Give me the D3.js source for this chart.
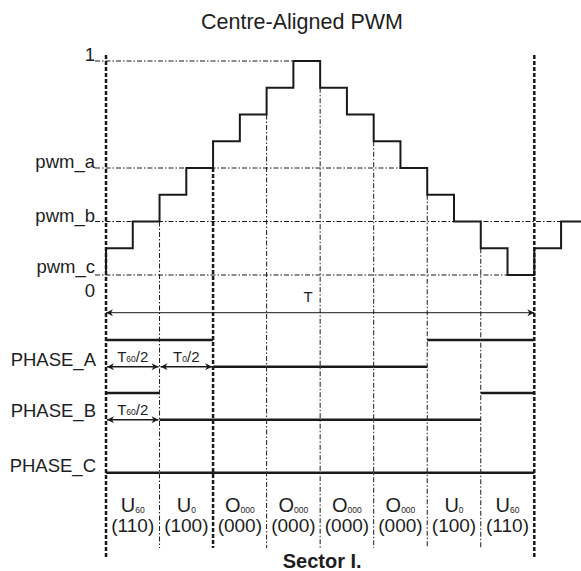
<!DOCTYPE html>
<html><head><meta charset="utf-8">
<script src="https://cdn.jsdelivr.net/npm/d3@7"></script>
<style>
body{margin:0;background:#fff}
text{font-family:"Liberation Sans",Arial,Helvetica,sans-serif;fill:#1e1e1e}
</style>
</head><body><svg id="c" width="581" height="571"></svg>
<script>
// ---------- data ----------
const title = "Centre-Aligned PWM";
const startLevel = 0;
const stepLevels = [1,2,3,4,5,6,7,8,7,6,5,4,3,2,1,0,1,2];
const stepsPerPeriod = 16;
const yTickLabels = ["1","pwm_a","pwm_b","pwm_c","0"];
const yTickValues = [8,4,2,0,-0.82];
const sectionLetters = ["U","U","O","O","O","O","U","U"];
const sectionSubs = ["60","0","000","000","000","000","0","60"];
const sectionCodes = ["(110)","(100)","(000)","(000)","(000)","(000)","(100)","(110)"];
const boldSections = [0,2,8];
const phaseNames = ["PHASE_A","PHASE_B","PHASE_C"];
const phaseA = [1,1,0,0,0,0,1,1];
const phaseB = [1,0,0,0,0,0,0,1];
const phaseC = [0,0,0,0,0,0,0,0];
const annPhase = ["PHASE_A","PHASE_A","PHASE_B"];
const annFrom = [0,1,0];
const annTo = [1,2,1];
const annSub = ["60","0","60"];
const periodLabel = "T";
const sectorLabel = "Sector I.";

// ---------- drawing ----------
const svg = d3.select("#c");
const ink = "#1a1a1a";
const x = d3.scaleLinear().domain([0, stepsPerPeriod]).range([106, 534.3]);
const y = d3.scaleLinear().domain([0, 8]).range([275, 61]);
const phaseY = d3.scalePoint().domain(phaseNames).range([366.7, 472.7]);
const phaseStep = 26.7;
const sx = k => x(2 * k);
const phases = [phaseA, phaseB, phaseC];

const defs = svg.append("defs");
defs.append("marker").attr("id","arr").attr("viewBox","0 0 10 10").attr("refX",10).attr("refY",5)
  .attr("markerWidth",9).attr("markerHeight",7).attr("markerUnits","userSpaceOnUse")
  .attr("orient","auto-start-reverse")
  .append("path").attr("d","M0,0 L10,5 L0,10 L3,5 Z").attr("fill",ink);

// title
svg.append("text").attr("x",302).attr("y",28.5).attr("text-anchor","middle")
  .attr("font-size",21.5).text(title);

// horizontal reference lines
yTickValues.forEach((v,i)=>{
  if (v < 0) return;
  const last = stepLevels.lastIndexOf(v);
  svg.append("line").attr("x1",95).attr("x2",x(last)).attr("y1",y(v)).attr("y2",y(v))
    .attr("stroke",ink).attr("stroke-width",1).attr("stroke-dasharray","5,2,1.5,2");
});
// y labels
yTickLabels.forEach((t,i)=>{
  const v = yTickValues[i];
  svg.append("text").attr("x",95).attr("y",y(v) - (v===0 ? 2 : 0)).attr("text-anchor","end")
    .attr("font-size",18.5).text(t);
});

// section vertical lines
d3.range(0, 9).forEach(k=>{
  const s = 2*k;
  const bold = boldSections.includes(k);
  const edge = (k===0 || k===8);
  const top = edge ? 55 : y(Math.min(stepLevels[s-1], stepLevels[s]));
  const bottom = edge ? 557 : 548;
  svg.append("line").attr("x1",sx(k)).attr("x2",sx(k)).attr("y1",top).attr("y2",bottom)
    .attr("stroke",ink).attr("stroke-width", bold ? 2.5 : 1)
    .attr("stroke-dasharray", bold ? "4,2" : "5,2,1.5,2");
});

// staircase
const pts = [[0,startLevel]].concat(stepLevels.map((l,i)=>[i,l]));
pts.push([stepLevels.length, stepLevels[stepLevels.length-1]]);
svg.append("path").attr("d", d3.line().x(d=>x(d[0])).y(d=>y(d[1])).curve(d3.curveStepAfter)(pts))
  .attr("fill","none").attr("stroke",ink).attr("stroke-width",2);

// period arrow
svg.append("line").attr("x1",x(0)).attr("x2",x(stepsPerPeriod)).attr("y1",312.7).attr("y2",312.7)
  .attr("stroke",ink).attr("stroke-width",1)
  .attr("marker-start","url(#arr)").attr("marker-end","url(#arr)");
svg.append("text").attr("x",308).attr("y",301.5).attr("text-anchor","middle").attr("font-size",15).text(periodLabel);

// phases
phaseNames.forEach((p,pi)=>{
  const st = phases[pi];
  st.forEach((v,k)=>{
    const yy = phaseY(p) - v*phaseStep;
    svg.append("line").attr("x1",sx(k)).attr("x2",sx(k+1)).attr("y1",yy).attr("y2",yy)
      .attr("stroke",ink).attr("stroke-width",2.5);
  });
  svg.append("text").attr("x",96).attr("y",phaseY(p) - (pi===1 ? 2.5 : 1)).attr("text-anchor","end")
    .attr("font-size",18.5).text(p);
});
// annotations
annPhase.forEach((p,i)=>{
  const yy = phaseY(p);
  svg.append("line").attr("x1",sx(annFrom[i])+1).attr("x2",sx(annTo[i])-1).attr("y1",yy).attr("y2",yy)
    .attr("stroke",ink).attr("stroke-width",1.5)
    .attr("marker-start","url(#arr)").attr("marker-end","url(#arr)");
  const t = svg.append("text").attr("x",(sx(annFrom[i])+sx(annTo[i]))/2).attr("y",yy-5)
    .attr("text-anchor","middle").attr("font-size",15);
  t.append("tspan").text("T");
  t.append("tspan").attr("font-size",8.5).text(annSub[i]);
  t.append("tspan").text("/2");
});

// section labels
sectionLetters.forEach((L,k)=>{
  const cx = (sx(k)+sx(k+1))/2;
  const t = svg.append("text").attr("x",cx).attr("y",511.7).attr("text-anchor","middle").attr("font-size",20);
  t.append("tspan").text(L);
  t.append("tspan").attr("font-size",8.5).attr("dy",1).text(sectionSubs[k]);
  svg.append("text").attr("x",cx).attr("y",532).attr("text-anchor","middle").attr("font-size",19).text(sectionCodes[k]);
});
svg.append("text").attr("x",(x(0)+x(stepsPerPeriod))/2+2).attr("y",568).attr("text-anchor","middle")
  .attr("font-size",20).attr("font-weight","bold").text(sectorLabel);
</script>
</body></html>
